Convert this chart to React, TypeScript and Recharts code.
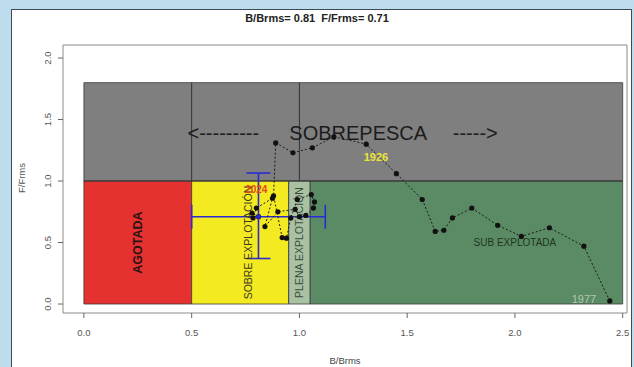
import React from "react";
import {
  ComposedChart, XAxis, YAxis, Scatter, ReferenceArea, ReferenceLine, ReferenceDot, ErrorBar,
} from "recharts";

// ejes
const xTicks = [0, 0.5, 1, 1.5, 2, 2.5];
const yTicks = [0, 0.5, 1, 1.5, 2];

// trayectoria B/Brms - F/Frms (1977 -> 2024)
const bRatio = [
  2.44, 2.32, 2.16, 2.03, 1.92, 1.8, 1.71, 1.67, 1.63, 1.57, 1.45, 1.31, 1.16, 1.06, 0.97, 0.89,
  0.88, 0.92, 0.94, 0.96, 0.99, 1.055, 1.07, 1.065, 1.03, 1.0, 0.98, 0.9, 0.84, 0.875, 0.8,
  0.785, 0.78, 0.81,
];
const fRatio = [
  0.025, 0.47, 0.62, 0.55, 0.64, 0.78, 0.7, 0.6, 0.59, 0.85, 1.06, 1.3, 1.36, 1.27, 1.23, 1.31,
  0.88, 0.54, 0.535, 0.7, 0.85, 0.89, 0.83, 0.78, 0.72, 0.71, 0.77, 0.75, 0.63, 0.86, 0.78,
  0.7, 0.74, 0.71,
];

// estado actual e intervalos
const current = { b: 0.81, f: 0.71 };
const bInterval = [0.31, 0.31];
const fInterval = [0.34, 0.355];

// zonas del diagrama (límites en unidades de los ejes)
const sobrepesca = [0, 2.5, 1, 1.8];
const agotada = [0, 0.5, 0, 1];
const sobreExplot = [0.5, 0.95, 0, 1];
const plenaExplot = [0.95, 1.05, 0, 1];
const subExplot = [1.05, 2.5, 0, 1];

const points = bRatio.map((b, i) => ({ b, f: fRatio[i] }));
const centre = [{ ...current, eb: bInterval, ef: fInterval }];

const FONT = "'Liberation Sans', Arial, sans-serif";
const X_DOMAIN = [-0.097, 2.52];
const Y_DOMAIN = [-0.073, 2.106];

function Txt({ x, y, value, size, color, angle = 0, weight = 400 }: any) {
  return (
    <ReferenceDot
      x={x}
      y={y}
      r={0}
      ifOverflow="visible"
      shape={(p: any) => (
        <text
          x={p.cx}
          y={p.cy}
          textAnchor="middle"
          dominantBaseline="central"
          fontSize={size}
          fontFamily={FONT}
          fontWeight={weight}
          fill={color}
          transform={angle ? `rotate(${angle} ${p.cx} ${p.cy})` : undefined}
        >
          {value}
        </text>
      )}
    />
  );
}

const YTick = ({ x, y, payload }: any) => (
  <text
    x={x}
    y={y}
    textAnchor="middle"
    fontSize={9.5}
    fontFamily={FONT}
    fill="#555"
    transform={`rotate(-90 ${x} ${y})`}
  >
    {payload.value.toFixed(1)}
  </text>
);

function zone(z: number[], fill: string, key: string) {
  return (
    <ReferenceArea
      key={key}
      x1={z[0]}
      x2={z[1]}
      y1={z[2]}
      y2={z[3]}
      fill={fill}
      fillOpacity={1}
      stroke="#3a3a3a"
      strokeWidth={0.8}
      ifOverflow="visible"
    />
  );
}

export default function App() {
  return (
    <div style={{ position: "absolute", left: 0, top: 0, width: 634, height: 367, background: "#bddced", overflow: "hidden" }}>
      <div
        style={{
          position: "absolute", left: 11, top: 9, width: 621, height: 370,
          background: "#fff", border: "1px solid #3d4b55", boxSizing: "border-box",
        }}
      />
      <div
        style={{
          position: "absolute", left: 0, top: 12, width: 634, textAlign: "center",
          fontFamily: FONT, fontWeight: 700, fontSize: 11, color: "#222",
        }}
      >
        B/Brms= 0.81&nbsp;&nbsp;F/Frms= 0.71
      </div>
      <div style={{ position: "absolute", left: 0, top: 0 }}>
        <ComposedChart width={634} height={367} margin={{ top: 45, right: 7, bottom: 0, left: 23 }}>
          <XAxis
            type="number"
            dataKey="b"
            domain={X_DOMAIN}
            allowDataOverflow
            ticks={xTicks}
            tickFormatter={(v: number) => v.toFixed(1)}
            axisLine={false}
            tickLine={{ stroke: "#666" }}
            tickSize={5}
            tickMargin={11}
            tick={{ fontSize: 9.5, fill: "#555", fontFamily: FONT }}
            height={54}
            label={{ value: "B/Brms", position: "insideBottom", offset: 3, fontSize: 9.5, fill: "#444", fontFamily: FONT }}
          />
          <YAxis
            type="number"
            dataKey="f"
            domain={Y_DOMAIN}
            allowDataOverflow
            ticks={yTicks}
            axisLine={false}
            tickLine={{ stroke: "#666" }}
            tickSize={5}
            tickMargin={7}
            tick={<YTick />}
            width={40}
            label={{
              content: () => (
                <text x={25} y={178} textAnchor="middle" fontSize={9.5} fill="#555" fontFamily={FONT} transform="rotate(-90 25 178)">
                  F/Frms
                </text>
              ),
            }}
          />
          {/* marco del gráfico */}
          <ReferenceArea x1={X_DOMAIN[0]} x2={X_DOMAIN[1]} y1={Y_DOMAIN[0]} y2={Y_DOMAIN[1]} fill="none" stroke="#8a8a8a" strokeWidth={1} ifOverflow="visible" />
          {zone(sobrepesca, "#7f7f7f", "sp")}
          {zone(agotada, "#e5312f", "ag")}
          {zone(sobreExplot, "#f3ea22", "se")}
          {zone(plenaExplot, "#a8c2a2", "pe")}
          {zone(subExplot, "#5b8b64", "sub")}
          <ReferenceLine segment={[{ x: 0.5, y: 1 }, { x: 0.5, y: 1.8 }]} stroke="#333" strokeWidth={1} />
          <ReferenceLine segment={[{ x: 1, y: 1 }, { x: 1, y: 1.8 }]} stroke="#333" strokeWidth={1} />
          <ReferenceLine segment={[{ x: 0, y: 1 }, { x: 2.5, y: 1 }]} stroke="#3a3a3a" strokeWidth={1} />
          <ReferenceLine segment={[{ x: 0.95, y: 0 }, { x: 0.95, y: 1 }]} stroke="#555" strokeWidth={1} strokeDasharray="2 2" />

          <Txt x={0.25} y={0.5} value="AGOTADA" size={12.5} color="#2a1414" angle={-90} weight={600} />
          <Txt x={0.76} y={0.5} value="SOBRE EXPLOTACIÓN" size={10.5} color="#3a3a1a" angle={-90} />
          <Txt x={1.0} y={0.5} value="PLENA EXPLOTACIÓN" size={10.5} color="#3d4a3d" angle={-90} />
          <Txt x={2.0} y={0.5} value="SUB EXPLOTADA" size={10} color="#1d3622" />
          <Txt x={1.273} y={1.39} value="SOBREPESCA" size={20} color="#1c1c1c" />
          <Txt x={0.647} y={1.39} value="<---------" size={20} color="#1c1c1c" />
          <Txt x={1.816} y={1.39} value="----->" size={20} color="#1c1c1c" />

          <Scatter
            data={points}
            dataKey="f"
            isAnimationActive={false}
            line={{ stroke: "#1a1a1a", strokeWidth: 1, strokeDasharray: "2 2" }}
            lineType="joint"
            shape={(p: any) => <circle cx={p.cx} cy={p.cy} r={2.6} fill="#111" />}
          />
          <Txt x={1.355} y={1.195} value="1926" size={11} color="#ece33a" weight={700} />
          <Txt x={2.32} y={0.04} value="1977" size={11} color="#b3c6b3" />
          <Txt x={0.8} y={0.93} value="2024" size={10} color="#e2461e" weight={700} />

          <Scatter
            data={centre}
            dataKey="f"
            isAnimationActive={false}
            shape={(p: any) => <circle cx={p.cx} cy={p.cy} r={2.4} fill="#2b2bd6" />}
          >
            <ErrorBar dataKey="eb" direction="x" width={12} stroke="#2b2bd6" strokeWidth={1.6} isAnimationActive={false} />
            <ErrorBar dataKey="ef" direction="y" width={12} stroke="#2b2bd6" strokeWidth={1.6} isAnimationActive={false} />
          </Scatter>
        </ComposedChart>
      </div>
    </div>
  );
}
